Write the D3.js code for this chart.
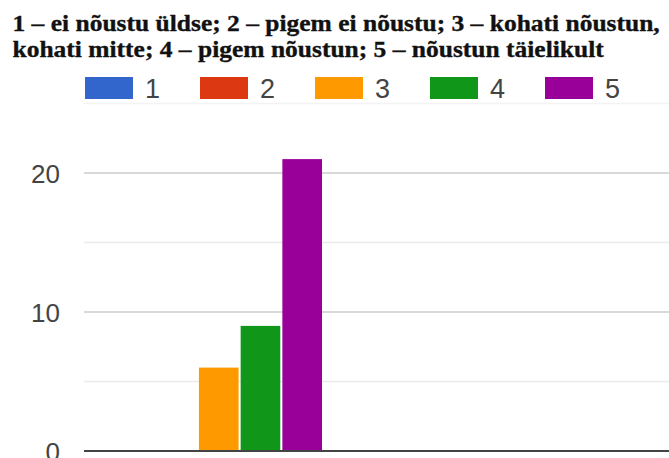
<!DOCTYPE html>
<html>
<head>
<meta charset="utf-8">
<script src="https://cdn.jsdelivr.net/npm/d3@7"></script>
<style>
  html, body { margin: 0; padding: 0; background: #fff; overflow: hidden; }
  svg { display: block; }
</style>
</head>
<body>
<script>
// ---- data ----
const titleLines = [
  "1 – ei nõustu üldse; 2 – pigem ei nõustu; 3 – kohati nõustun,",
  "kohati mitte; 4 – pigem nõustun; 5 – nõustun täielikult"
];
const categories = ["Vastused"];
const seriesNames = ["1", "2", "3", "4", "5"];
const seriesValues = [0, 0, 6, 9, 21];
const seriesColors = ["#3366cc", "#dc3912", "#ff9900", "#109618", "#990099"];
const majorTicks = [0, 10, 20];
const minorTicks = [5, 15, 25];

// ---- layout ----
const W = 669, H = 458;
const plotLeft = 84, plotRight = 669;
const svg = d3.select("body").append("svg").attr("width", W).attr("height", H);

const y = d3.scaleLinear().domain([0, 25]).range([451, 103.5]);
const x0 = d3.scaleBand().domain(categories).range([115.5, 322]).padding(0);
const x1 = d3.scaleBand().domain(seriesNames).range([0, x0.bandwidth()]).paddingInner(0.05).paddingOuter(0);

// title (slightly condensed serif, like the reference)
const titleFs = 24;
const title = svg.append("g");
const tl = title.selectAll("text").data(titleLines).enter().append("text")
  .attr("x", 0).attr("y", 0)
  .attr("font-family", "'Liberation Serif', 'Times New Roman', serif")
  .attr("font-weight", "bold").attr("font-size", titleFs)
  .attr("fill", "#111").attr("stroke", "#111").attr("stroke-width", 0.35)
  .text(d => d);
const len0 = tl.nodes()[0].getComputedTextLength();
const sx = 647.5 / len0;
tl.attr("transform", (d, i) => `translate(12.5,${i === 0 ? 30.5 : 56.5}) scale(${sx},1)`);

// legend
const legend = svg.append("g").attr("transform", "translate(85,77)");
const li = legend.selectAll("g").data(seriesNames).enter().append("g")
  .attr("transform", (d, i) => `translate(${i * 115},0)`);
li.append("rect").attr("width", 48).attr("height", 22)
  .attr("fill", (d, i) => seriesColors[i]);
li.append("text").attr("x", 60).attr("y", 21)
  .attr("font-family", "Arial, 'Liberation Sans', sans-serif")
  .attr("font-size", 27).attr("fill", "#444")
  .text(d => d);

// gridlines
const grid = svg.append("g");
grid.selectAll("line.minor").data(minorTicks).enter().append("line")
  .attr("class", "minor")
  .attr("x1", plotLeft).attr("x2", plotRight)
  .attr("y1", d => y(d)).attr("y2", d => y(d))
  .attr("stroke", d => d === 25 ? "#f3f3f3" : "#ebebeb").attr("stroke-width", 1.5);
grid.selectAll("line.major").data(majorTicks.filter(d => d !== 0)).enter().append("line")
  .attr("class", "major")
  .attr("x1", plotLeft).attr("x2", plotRight)
  .attr("y1", d => y(d)).attr("y2", d => y(d))
  .attr("stroke", "#cccccc").attr("stroke-width", 1.5);

// y axis labels
const yAxis = d3.axisLeft(y).tickValues(majorTicks).tickSize(0).tickPadding(0).tickFormat(d3.format("d"));
const ya = svg.append("g").attr("transform", "translate(60,0)").call(yAxis);
ya.select(".domain").remove();
ya.selectAll("text")
  .attr("font-family", "Arial, 'Liberation Sans', sans-serif")
  .attr("font-size", 26).attr("fill", "#444").attr("dy", "0.36em");

// bars
const groups = svg.append("g").selectAll("g").data(categories).enter().append("g")
  .attr("transform", d => `translate(${x0(d)},0)`);
groups.selectAll("rect")
  .data(() => seriesNames.map((s, i) => ({ s, v: seriesValues[i], c: seriesColors[i] })))
  .enter().append("rect")
  .attr("x", d => x1(d.s))
  .attr("width", x1.bandwidth())
  .attr("y", d => y(d.v))
  .attr("height", d => y(0) - y(d.v))
  .attr("fill", d => d.c);

// baseline
svg.append("line")
  .attr("x1", plotLeft).attr("x2", plotRight)
  .attr("y1", y(0)).attr("y2", y(0))
  .attr("stroke", "#444").attr("stroke-width", 2);
</script>
</body>
</html>
